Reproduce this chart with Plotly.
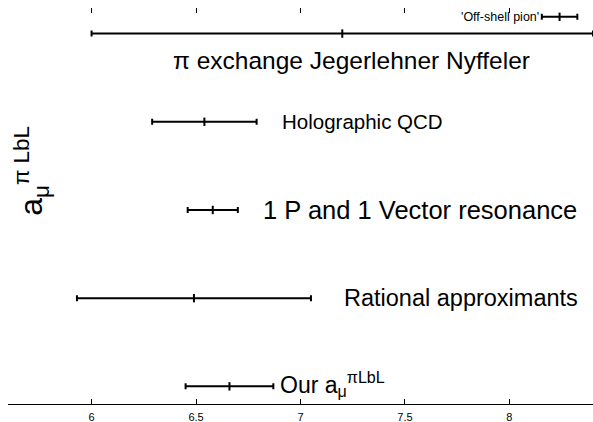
import plotly.graph_objects as go

# Central values and symmetric uncertainties (units of 1e-10)
methods = ["Our", "Rational approximants", "1 P and 1 Vector resonance",
           "Holographic QCD", "π exchange Jegerlehner Nyffeler", "'Off-shell pion'"]
values = [6.66, 6.49, 6.58, 6.54, 7.2, 8.24]
errors = [0.21, 0.56, 0.12, 0.25, 1.2, 0.085]
rows = [0, 1, 2, 3, 4, 4.19]

x_ticks = [6, 6.5, 7, 7.5, 8]
x_range = [5.6, 8.4]
y_range = [-0.2, 4.29]

FONT = "Liberation Sans, Arial, sans-serif"

fig = go.Figure()

# Error bars with end caps
fig.add_trace(go.Scatter(
    x=values, y=rows, mode="markers",
    marker=dict(symbol="line-ns", size=6, line=dict(width=2, color="black"), color="black"),
    error_x=dict(type="data", array=errors, visible=True, color="black",
                 thickness=2, width=3),
    showlegend=False, hoverinfo="skip",
))

# Invisible trace to carry the top tick axis
fig.add_trace(go.Scatter(x=x_range, y=[0, 0], xaxis="x2", mode="none",
                         showlegend=False, hoverinfo="skip"))

# Method labels placed beside / below each bar
labels = [
    dict(x=6.89, y=0.03, text="Our a<sub>μ</sub><sup>πLbL</sup>", size=23, xanchor="left"),
    dict(x=7.2, y=1.0, text="Rational approximants", size=23.5, xanchor="left"),
    dict(x=6.81, y=2.0, text="1 P and 1 Vector resonance", size=25.5, xanchor="left"),
    dict(x=6.90, y=3.0, text="Holographic QCD", size=20.5, xanchor="left"),
    dict(x=7.245, y=3.7, text="π exchange Jegerlehner Nyffeler", size=24.5, xanchor="center"),
    dict(x=8.15, y=4.19, text="'Off-shell pion'", size=12.5, xanchor="right"),
]
for lab in labels:
    fig.add_annotation(x=lab["x"], y=lab["y"], text=lab["text"], showarrow=False,
                       xanchor=lab["xanchor"], yanchor="middle",
                       font=dict(family=FONT, size=lab["size"], color="black"))

# Rotated y-axis title
fig.add_annotation(xref="paper", yref="paper", x=0.04, y=0.59,
                   text="a<sub>μ</sub><sup>π LbL</sup>", textangle=-90,
                   showarrow=False, xanchor="center", yanchor="middle",
                   font=dict(family=FONT, size=32, color="black"))

fig.update_layout(
    width=593, height=422,
    margin=dict(l=8, r=0, t=8, b=18),
    paper_bgcolor="white", plot_bgcolor="white",
    font=dict(family=FONT, size=11, color="black"),
    xaxis=dict(range=x_range, tickvals=x_ticks, ticktext=[str(t) for t in x_ticks],
               ticks="inside", ticklen=5, tickcolor="black", tickwidth=1,
               showline=True, linecolor="black", linewidth=1, ticklabelstandoff=3,
               showgrid=False, zeroline=False, tickfont=dict(size=11)),
    xaxis2=dict(range=x_range, tickvals=x_ticks, overlaying="x", side="top",
                ticks="inside", ticklen=5, tickcolor="black", tickwidth=1,
                showticklabels=False, showline=False, showgrid=False, zeroline=False),
    yaxis=dict(range=y_range, showticklabels=False, showgrid=False,
               zeroline=False, showline=False, ticks=""),
)

fig.write_html("out.html")
